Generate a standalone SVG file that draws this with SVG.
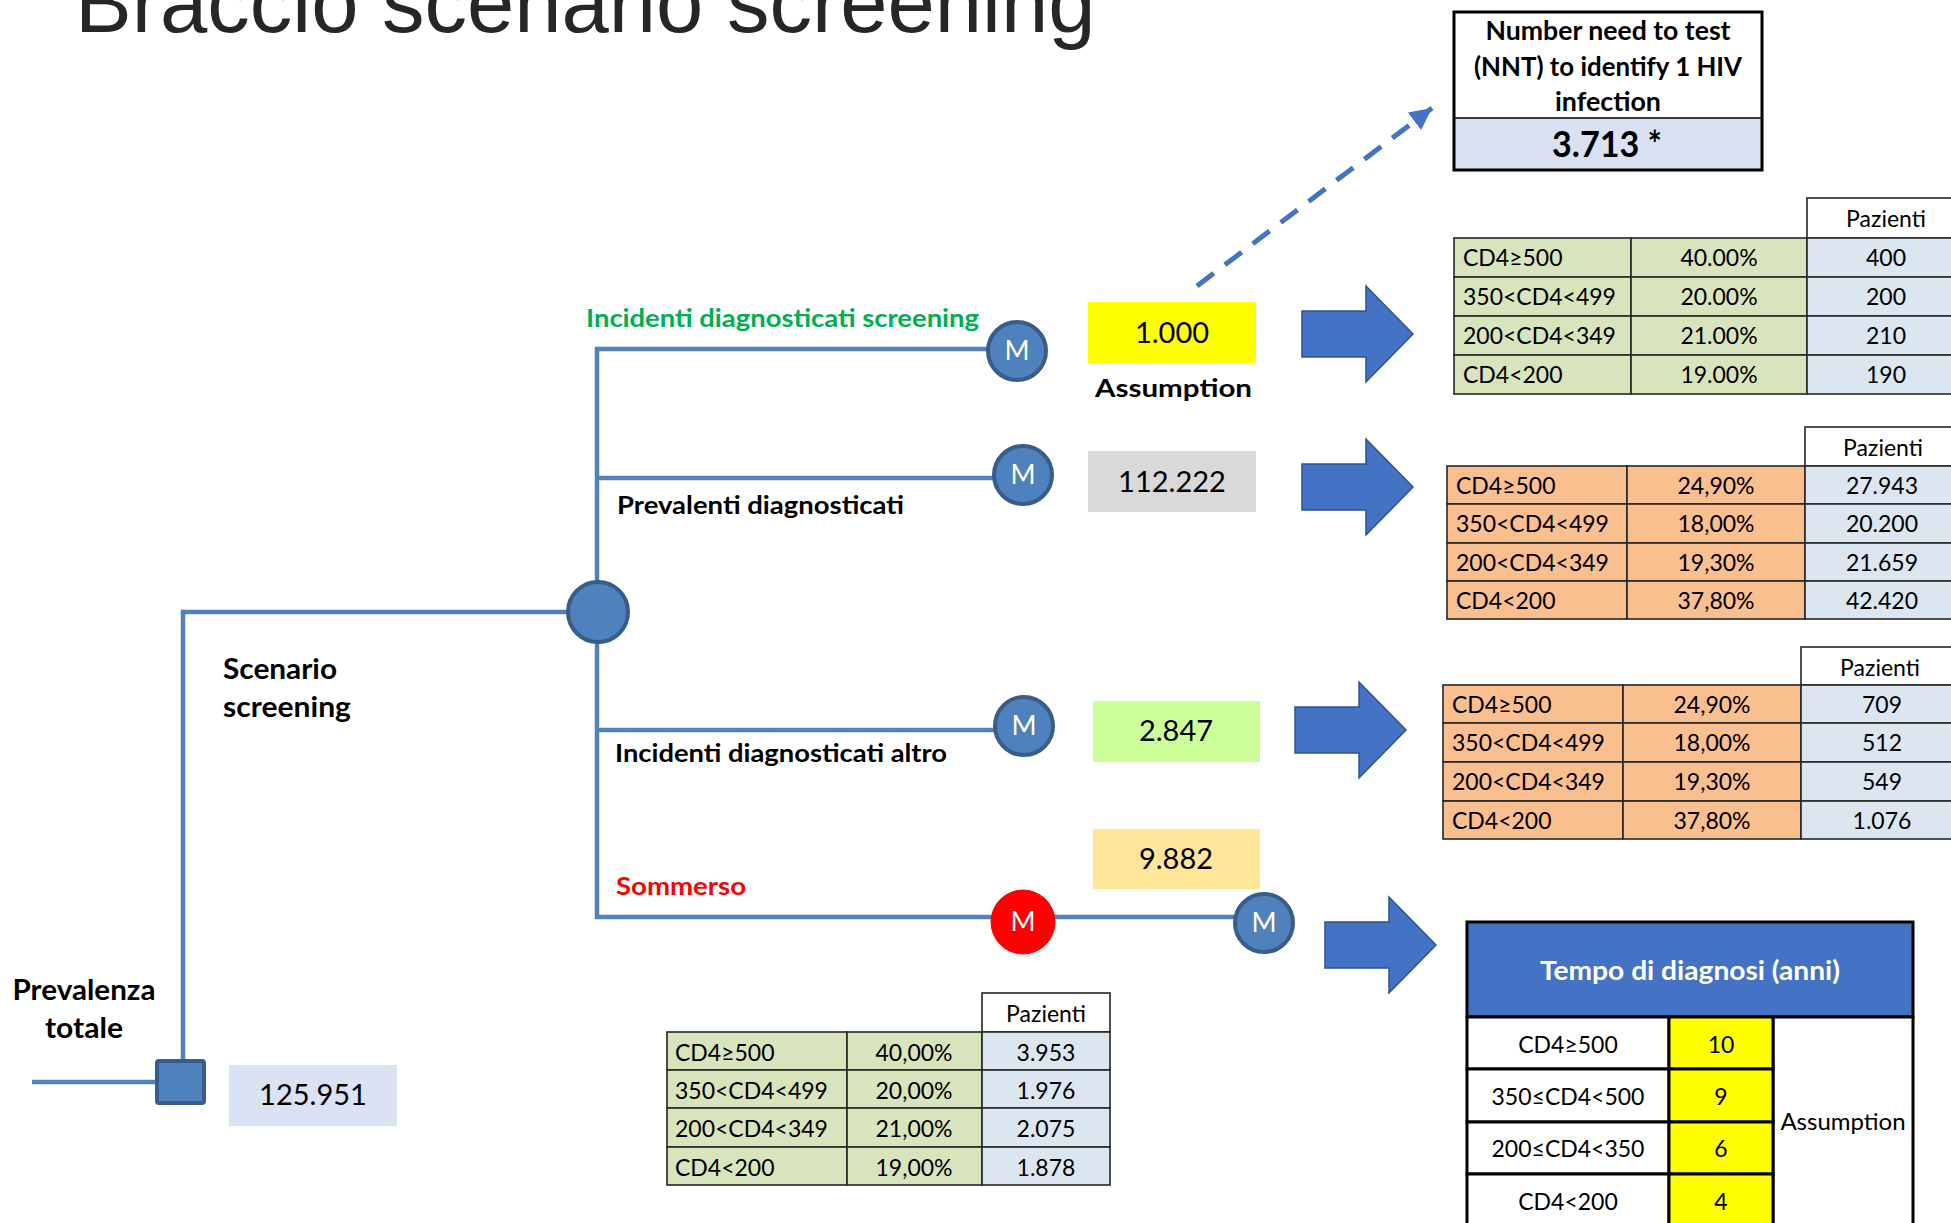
<svg xmlns="http://www.w3.org/2000/svg" width="1951" height="1223" viewBox="0 0 1951 1223">
<defs>
<style>
.bg{fill:#ffffff}
.title{font-family:"Liberation Sans",Arial,sans-serif;font-size:85px;fill:#262626}
.tree{fill:none;stroke:#4f81bd;stroke-width:4.5;stroke-linejoin:miter;stroke-linecap:butt}
.mnode{fill:#4f81bd;stroke:#385d8a;stroke-width:4}
.mred{fill:#ff0000;stroke:#ff0000;stroke-width:1}
.mtxt{font-family:Lato,"Open Sans",sans-serif;font-size:27px;fill:#ffffff;text-anchor:middle}
.lbl{font-family:Lato,"Open Sans",sans-serif;font-weight:bold;font-size:25px;fill:#000000}
.lbl2{font-family:Lato,"Open Sans",sans-serif;font-weight:bold;font-size:29px;fill:#000000}
.val{font-family:Lato,"Open Sans",sans-serif;font-size:29px;fill:#000000;text-anchor:middle}
.cell{stroke:#262626;stroke-width:1.6}
.g{fill:#d8e4bc}
.o{fill:#fabf8f}
.b{fill:#dce6f1}
.w{fill:#ffffff}
.t{font-family:Lato,"Open Sans",sans-serif;font-size:23px;fill:#000000}
.tc{font-family:Lato,"Open Sans",sans-serif;font-size:23px;fill:#000000;text-anchor:middle}
.t5{font-family:Lato,"Open Sans",sans-serif;font-size:23px;fill:#000000;text-anchor:middle}
.c5{stroke:#000000;stroke-width:3}
.barrow{fill:#4472c4;stroke:#2f528f;stroke-width:1.5}
.nnt{font-family:Lato,"Open Sans",sans-serif;font-weight:bold;font-size:26px;fill:#000000;text-anchor:middle}
</style>
<marker id="dashHead" markerUnits="userSpaceOnUse" markerWidth="26" markerHeight="22" refX="22" refY="11" orient="auto">
<path d="M0,0 L22,11 L0,22 Z" fill="#4472c4"/>
</marker>
</defs>
<rect class="bg" x="0" y="0" width="1951" height="1223"/>

<text id="title" class="title" x="75" y="32">Braccio scenario screening</text>

<g id="connectors">
<line class="tree" x1="32" y1="1082" x2="160" y2="1082"/>
<polyline class="tree" points="183,1062 183,612 598,612"/>
<line class="tree" x1="597" y1="347" x2="597" y2="919"/>
<line class="tree" x1="595" y1="349" x2="990" y2="349"/>
<line class="tree" x1="595" y1="478" x2="996" y2="478"/>
<line class="tree" x1="595" y1="730" x2="996" y2="730"/>
<line class="tree" x1="595" y1="917" x2="1236" y2="917"/>
<line x1="1197" y1="286" x2="1432" y2="108" stroke="#4472c4" stroke-width="5" stroke-dasharray="21 14" marker-end="url(#dashHead)"/>
<polygon id="arrow1" class="barrow" points="1302,311 1366,311 1366,286 1413,334 1366,382 1366,357 1302,357"/>
<polygon id="arrow2" class="barrow" points="1302,464 1366,464 1366,439 1413,487 1366,535 1366,510 1302,510"/>
<polygon id="arrow3" class="barrow" points="1295,707 1359,707 1359,682 1406,730 1359,778 1359,753 1295,753"/>
<polygon id="arrow4" class="barrow" points="1325,922 1389,922 1389,897 1436,945 1389,993 1389,968 1325,968"/>
</g>

<g id="node-decision">
<rect x="157" y="1061" width="47" height="42" rx="2" class="mnode"/>
<text class="lbl2" x="84" y="1000" text-anchor="middle" textLength="143" lengthAdjust="spacingAndGlyphs">Prevalenza</text>
<text class="lbl2" x="84" y="1038" text-anchor="middle" textLength="78" lengthAdjust="spacingAndGlyphs">totale</text>
</g>
<g id="node-total-value">
<rect x="229" y="1065" width="168" height="61" fill="#dae3f3"/>
<text class="val" x="313" y="1105">125.951</text>
</g>

<g id="node-scenario">
<text class="lbl2" x="223" y="679" textLength="114" lengthAdjust="spacingAndGlyphs">Scenario</text>
<text class="lbl2" x="223" y="717" textLength="128" lengthAdjust="spacingAndGlyphs">screening</text>
</g>

<g id="node-chance">
<circle cx="598" cy="612" r="30" class="mnode"/>
</g>

<g id="node-inc-screening">
<text class="lbl" x="586" y="327" style="fill:#00b050" textLength="393" lengthAdjust="spacingAndGlyphs">Incidenti diagnosticati screening</text>
<circle cx="1017" cy="351" r="29" class="mnode"/>
<text class="mtxt" x="1017" y="360">M</text>
</g>
<g id="node-val-1000">
<rect x="1088" y="302" width="168" height="61" fill="#ffff00"/>
<text class="val" x="1172" y="343">1.000</text>
<text class="lbl" x="1095" y="397" textLength="157" lengthAdjust="spacingAndGlyphs">Assumption</text>
</g>

<g id="node-prevalenti">
<text class="lbl" x="617" y="514" textLength="287" lengthAdjust="spacingAndGlyphs">Prevalenti diagnosticati</text>
<circle cx="1023" cy="475" r="29" class="mnode"/>
<text class="mtxt" x="1023" y="484">M</text>
</g>
<g id="node-val-112222">
<rect x="1088" y="451" width="168" height="61" fill="#d9d9d9"/>
<text class="val" x="1172" y="492">112.222</text>
</g>

<g id="node-inc-altro">
<text class="lbl" x="615" y="762" textLength="332" lengthAdjust="spacingAndGlyphs">Incidenti diagnosticati altro</text>
<circle cx="1024" cy="726" r="29" class="mnode"/>
<text class="mtxt" x="1024" y="735">M</text>
</g>
<g id="node-val-2847">
<rect x="1093" y="701" width="167" height="61" fill="#ccff99"/>
<text class="val" x="1176" y="741">2.847</text>
</g>

<g id="node-sommerso">
<text class="lbl" x="616" y="895" style="fill:#ff0000" textLength="130" lengthAdjust="spacingAndGlyphs">Sommerso</text>
<circle cx="1023" cy="922" r="32" class="mred"/>
<text class="mtxt" x="1023" y="931">M</text>
</g>
<g id="node-val-9882">
<rect x="1093" y="829" width="167" height="60" fill="#ffe699"/>
<text class="val" x="1176" y="869">9.882</text>
</g>
<g id="node-sommerso-m">
<circle cx="1264" cy="923" r="29" class="mnode"/>
<text class="mtxt" x="1264" y="932">M</text>
</g>

<g id="node-nnt">
<rect x="1454" y="12" width="308" height="106" fill="#ffffff"/>
<rect x="1454" y="118" width="308" height="52" fill="#d9e1f2"/>
<line x1="1454" y1="118" x2="1762" y2="118" stroke="#000" stroke-width="1.6"/>
<rect x="1454" y="12" width="308" height="158" fill="none" stroke="#000" stroke-width="3"/>
<text class="nnt" x="1608" y="40" textLength="245" lengthAdjust="spacingAndGlyphs">Number need to test</text>
<text class="nnt" x="1608" y="76" textLength="268" lengthAdjust="spacingAndGlyphs">(NNT) to identify 1 HIV</text>
<text class="nnt" x="1608" y="111" textLength="106" lengthAdjust="spacingAndGlyphs">infection</text>
<text class="nnt" x="1607" y="157" style="font-size:36px" textLength="110" lengthAdjust="spacingAndGlyphs">3.713 *</text>
</g>

<g id="table-screening">
<rect class="cell w" x="1807" y="198" width="160" height="40"/>
<text class="tc" x="1886" y="227">Pazienti</text>
<rect class="cell g" x="1454" y="238" width="177" height="39"/><rect class="cell g" x="1631" y="238" width="176" height="39"/><rect class="cell b" x="1807" y="238" width="160" height="39"/>
<rect class="cell g" x="1454" y="277" width="177" height="39"/><rect class="cell g" x="1631" y="277" width="176" height="39"/><rect class="cell b" x="1807" y="277" width="160" height="39"/>
<rect class="cell g" x="1454" y="316" width="177" height="39"/><rect class="cell g" x="1631" y="316" width="176" height="39"/><rect class="cell b" x="1807" y="316" width="160" height="39"/>
<rect class="cell g" x="1454" y="355" width="177" height="39"/><rect class="cell g" x="1631" y="355" width="176" height="39"/><rect class="cell b" x="1807" y="355" width="160" height="39"/>
<text class="t" x="1463" y="266">CD4≥500</text><text class="tc" x="1719" y="266">40.00%</text><text class="tc" x="1886" y="266">400</text>
<text class="t" x="1463" y="305">350&lt;CD4&lt;499</text><text class="tc" x="1719" y="305">20.00%</text><text class="tc" x="1886" y="305">200</text>
<text class="t" x="1463" y="344">200&lt;CD4&lt;349</text><text class="tc" x="1719" y="344">21.00%</text><text class="tc" x="1886" y="344">210</text>
<text class="t" x="1463" y="383">CD4&lt;200</text><text class="tc" x="1719" y="383">19.00%</text><text class="tc" x="1886" y="383">190</text>
</g>

<g id="table-prevalenti">
<rect class="cell w" x="1805" y="427" width="160" height="39"/>
<text class="tc" x="1883" y="456">Pazienti</text>
<rect class="cell o" x="1447" y="466" width="180" height="38"/><rect class="cell o" x="1627" y="466" width="178" height="38"/><rect class="cell b" x="1805" y="466" width="160" height="38"/>
<rect class="cell o" x="1447" y="504" width="180" height="39"/><rect class="cell o" x="1627" y="504" width="178" height="39"/><rect class="cell b" x="1805" y="504" width="160" height="39"/>
<rect class="cell o" x="1447" y="543" width="180" height="38"/><rect class="cell o" x="1627" y="543" width="178" height="38"/><rect class="cell b" x="1805" y="543" width="160" height="38"/>
<rect class="cell o" x="1447" y="581" width="180" height="38"/><rect class="cell o" x="1627" y="581" width="178" height="38"/><rect class="cell b" x="1805" y="581" width="160" height="38"/>
<text class="t" x="1456" y="494">CD4≥500</text><text class="tc" x="1716" y="494">24,90%</text><text class="tc" x="1882" y="494">27.943</text>
<text class="t" x="1456" y="532">350&lt;CD4&lt;499</text><text class="tc" x="1716" y="532">18,00%</text><text class="tc" x="1882" y="532">20.200</text>
<text class="t" x="1456" y="571">200&lt;CD4&lt;349</text><text class="tc" x="1716" y="571">19,30%</text><text class="tc" x="1882" y="571">21.659</text>
<text class="t" x="1456" y="609">CD4&lt;200</text><text class="tc" x="1716" y="609">37,80%</text><text class="tc" x="1882" y="609">42.420</text>
</g>

<g id="table-altro">
<rect class="cell w" x="1801" y="647" width="160" height="38"/>
<text class="tc" x="1880" y="676">Pazienti</text>
<rect class="cell o" x="1443" y="685" width="180" height="38"/><rect class="cell o" x="1623" y="685" width="178" height="38"/><rect class="cell b" x="1801" y="685" width="160" height="38"/>
<rect class="cell o" x="1443" y="723" width="180" height="39"/><rect class="cell o" x="1623" y="723" width="178" height="39"/><rect class="cell b" x="1801" y="723" width="160" height="39"/>
<rect class="cell o" x="1443" y="762" width="180" height="39"/><rect class="cell o" x="1623" y="762" width="178" height="39"/><rect class="cell b" x="1801" y="762" width="160" height="39"/>
<rect class="cell o" x="1443" y="801" width="180" height="38"/><rect class="cell o" x="1623" y="801" width="178" height="38"/><rect class="cell b" x="1801" y="801" width="160" height="38"/>
<text class="t" x="1452" y="713">CD4≥500</text><text class="tc" x="1712" y="713">24,90%</text><text class="tc" x="1882" y="713">709</text>
<text class="t" x="1452" y="751">350&lt;CD4&lt;499</text><text class="tc" x="1712" y="751">18,00%</text><text class="tc" x="1882" y="751">512</text>
<text class="t" x="1452" y="790">200&lt;CD4&lt;349</text><text class="tc" x="1712" y="790">19,30%</text><text class="tc" x="1882" y="790">549</text>
<text class="t" x="1452" y="829">CD4&lt;200</text><text class="tc" x="1712" y="829">37,80%</text><text class="tc" x="1882" y="829">1.076</text>
</g>

<g id="table-sommerso">
<rect class="cell w" x="982" y="993" width="128" height="39"/>
<text class="tc" x="1046" y="1022">Pazienti</text>
<rect class="cell g" x="667" y="1032" width="180" height="38"/><rect class="cell g" x="847" y="1032" width="135" height="38"/><rect class="cell b" x="982" y="1032" width="128" height="38"/>
<rect class="cell g" x="667" y="1070" width="180" height="38"/><rect class="cell g" x="847" y="1070" width="135" height="38"/><rect class="cell b" x="982" y="1070" width="128" height="38"/>
<rect class="cell g" x="667" y="1108" width="180" height="39"/><rect class="cell g" x="847" y="1108" width="135" height="39"/><rect class="cell b" x="982" y="1108" width="128" height="39"/>
<rect class="cell g" x="667" y="1147" width="180" height="38"/><rect class="cell g" x="847" y="1147" width="135" height="38"/><rect class="cell b" x="982" y="1147" width="128" height="38"/>
<text class="t" x="675" y="1061">CD4≥500</text><text class="tc" x="914" y="1061">40,00%</text><text class="tc" x="1046" y="1061">3.953</text>
<text class="t" x="675" y="1099">350&lt;CD4&lt;499</text><text class="tc" x="914" y="1099">20,00%</text><text class="tc" x="1046" y="1099">1.976</text>
<text class="t" x="675" y="1137">200&lt;CD4&lt;349</text><text class="tc" x="914" y="1137">21,00%</text><text class="tc" x="1046" y="1137">2.075</text>
<text class="t" x="675" y="1176">CD4&lt;200</text><text class="tc" x="914" y="1176">19,00%</text><text class="tc" x="1046" y="1176">1.878</text>
</g>

<g id="table-tempo">
<rect class="c5" x="1467" y="922" width="446" height="95" fill="#4472c4"/>
<text x="1690" y="980" text-anchor="middle" font-family="Lato, 'Open Sans', sans-serif" font-weight="bold" font-size="27" fill="#ffffff" textLength="300" lengthAdjust="spacingAndGlyphs">Tempo di diagnosi (anni)</text>
<rect class="c5" x="1773" y="1017" width="140" height="215" fill="#ffffff"/>
<rect class="c5" x="1467" y="1017" width="202" height="52" fill="#ffffff"/><rect class="c5" x="1669" y="1017" width="104" height="52" fill="#ffff00"/>
<rect class="c5" x="1467" y="1069" width="202" height="53" fill="#ffffff"/><rect class="c5" x="1669" y="1069" width="104" height="53" fill="#ffff00"/>
<rect class="c5" x="1467" y="1122" width="202" height="52" fill="#ffffff"/><rect class="c5" x="1669" y="1122" width="104" height="52" fill="#ffff00"/>
<rect class="c5" x="1467" y="1174" width="202" height="58" fill="#ffffff"/><rect class="c5" x="1669" y="1174" width="104" height="58" fill="#ffff00"/>
<text class="t5" x="1568" y="1053">CD4≥500</text><text class="t5" x="1721" y="1053">10</text>
<text class="t5" x="1568" y="1105">350≤CD4&lt;500</text><text class="t5" x="1721" y="1105">9</text>
<text class="t5" x="1568" y="1157">200≤CD4&lt;350</text><text class="t5" x="1721" y="1157">6</text>
<text class="t5" x="1568" y="1210">CD4&lt;200</text><text class="t5" x="1721" y="1210">4</text>
<text class="t5" x="1843" y="1130" style="font-size:24px">Assumption</text>
</g>
</svg>
